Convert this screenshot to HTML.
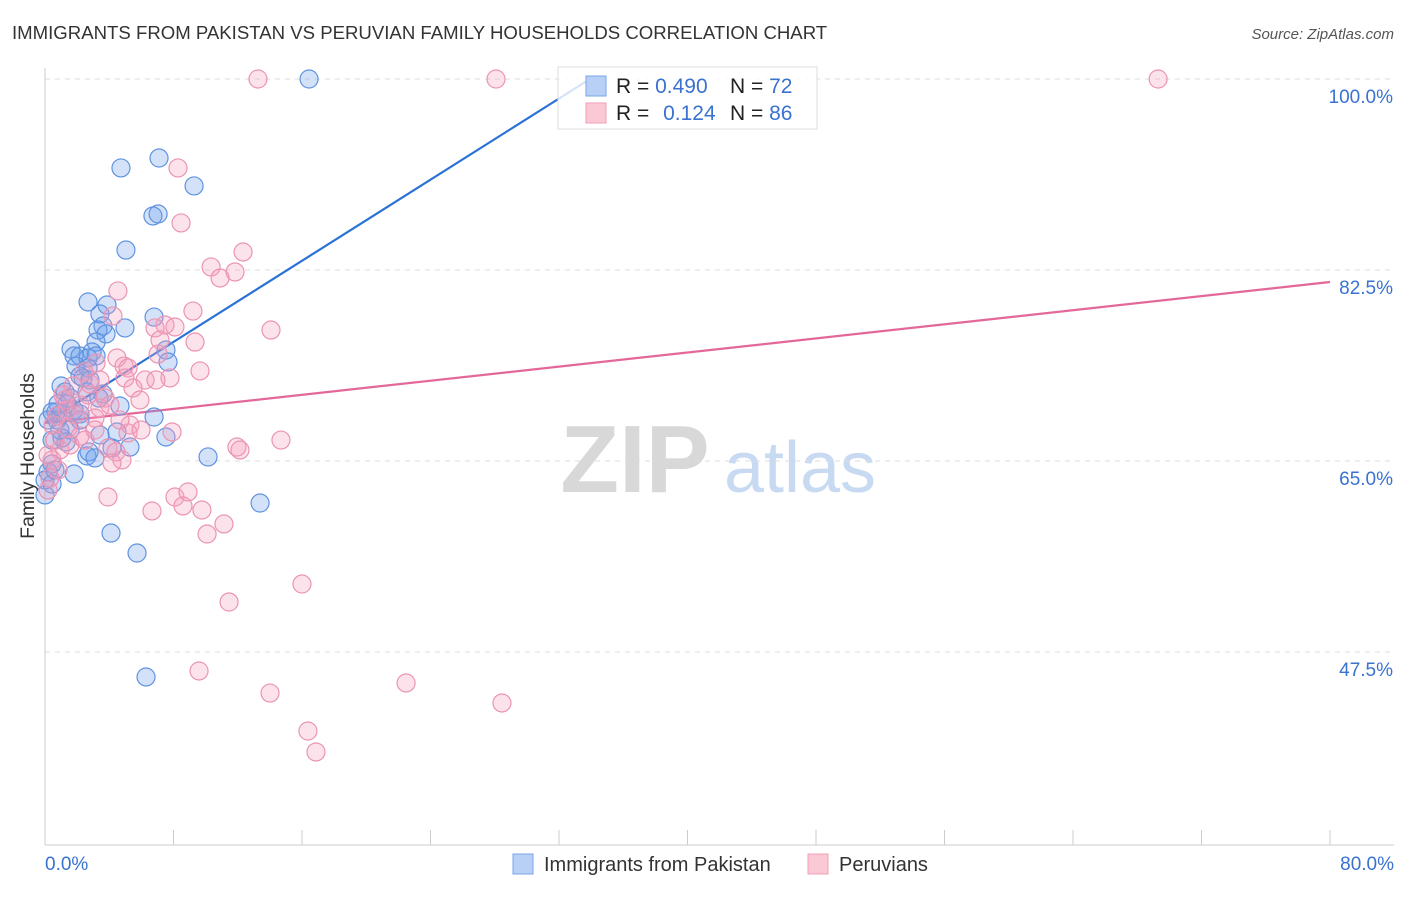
<!DOCTYPE html>
<html><head><meta charset="utf-8"><style>
body{margin:0;background:#fff;font-family:"Liberation Sans",sans-serif;}
svg text{font-family:"Liberation Sans",sans-serif;}
</style></head><body>
<svg id="chart" width="1406" height="892" xmlns="http://www.w3.org/2000/svg">
<text x="12" y="39" font-size="18.6" fill="#333">IMMIGRANTS FROM PAKISTAN VS PERUVIAN FAMILY HOUSEHOLDS CORRELATION CHART</text>
<text x="1394" y="39" font-size="15" fill="#555" text-anchor="end" font-style="italic">Source: ZipAtlas.com</text>
<g>
<text x="635" y="492" font-size="96" fill="#d8d8d8" text-anchor="middle" font-family="Liberation Serif" font-weight="bold">ZIP</text>
<text x="800" y="492" font-size="72" fill="#c8daf2" text-anchor="middle">atlas</text>
</g>
<g id="grid"></g>
<g id="axes"></g>
<g id="lines"></g>
<g id="pts"></g>
<text transform="translate(34,456) rotate(-90)" font-size="19.5" fill="#333" text-anchor="middle">Family Households</text>
<g>
<rect x="558" y="67" width="259" height="62" fill="#fff" fill-opacity="0.8" stroke="#ddd"/>
<rect x="586" y="76" width="20" height="20" fill="#b8d0f5" stroke="#7aa6e8"/>
<rect x="586" y="103" width="20" height="20" fill="#fbc8d6" stroke="#f0a0b8"/>
<text x="616" y="93" font-size="21" fill="#222">R = <tspan fill="#3a72d0">0.490</tspan></text>
<text x="730" y="93" font-size="21" fill="#222">N = <tspan fill="#3a72d0">72</tspan></text>
<text x="616" y="120" font-size="21" fill="#222">R = <tspan fill="#3a72d0" dx="8">0.124</tspan></text>
<text x="730" y="120" font-size="21" fill="#222">N = <tspan fill="#3a72d0">86</tspan></text>
</g>
<g>
<rect x="513" y="854" width="20" height="20" fill="#b8d0f5" stroke="#7aa6e8"/>
<text x="544" y="871" font-size="20" fill="#333">Immigrants from Pakistan</text>
<rect x="808" y="854" width="20" height="20" fill="#fbc8d6" stroke="#f0a0b8"/>
<text x="839" y="871" font-size="20" fill="#333">Peruvians</text>
</g>
</svg>
<script>
const yTicks=[100,82.5,65,47.5];
const yTickLabels=["100.0%","82.5%","65.0%","47.5%"];
const xTicks=[0,8,16,24,32,40,48,56,64,72,80];
const blueX=[16.44,4.73,7.10,9.28,6.72,7.04,5.04,2.68,3.86,3.42,3.61,4.98,3.30,6.79,3.80,3.18,1.62,1.81,2.18,2.93,2.68,3.18,7.53,7.66,1.93,2.68,2.18,2.37,1.00,1.25,2.61,3.61,1.56,3.36,0.81,1.37,1.81,4.67,0.68,0.44,1.00,2.18,6.79,0.75,1.06,1.31,3.42,4.48,2.61,2.74,3.11,5.29,7.53,4.17,10.15,0.44,0.19,1.81,0.44,0,13.39,4.11,5.73,6.29,0.19,0.44,0,0.93,2.18,1.56,0.62,2.80];
const blueY=[100,91.85,92.76,90.20,87.45,87.63,84.33,79.57,79.29,78.47,77.37,77.19,77.00,78.19,76.64,75.90,75.26,74.62,74.62,74.99,74.44,74.62,75.17,74.07,73.70,73.52,72.79,72.61,71.87,71.32,71.32,71.14,70.77,70.77,70.22,70.22,69.67,70.04,69.49,69.49,69.31,69.31,69.03,68.76,67.11,66.74,67.38,67.66,65.46,65.83,65.28,66.28,67.20,66.19,65.37,64.73,64.01,63.81,62.89,61.89,61.15,58.40,56.57,45.21,68.76,66.92,63.26,67.84,68.76,67.84,64.18,72.42];
const pinkX=[13.26,28.08,69.30,8.28,8.47,12.33,10.34,11.83,10.90,4.54,9.21,7.47,6.85,8.09,14.07,7.16,9.34,4.23,7.04,4.48,4.92,5.17,3.18,2.43,7.78,9.65,4.98,6.23,6.91,2.80,5.48,1.74,3.74,2.18,3.42,4.05,1.37,0.75,3.11,1.43,5.29,5.17,5.98,7.91,2.18,14.69,11.95,12.14,3.92,4.42,4.79,4.17,0.44,0.81,0.31,0.19,3.92,8.09,8.90,8.59,9.77,6.66,11.14,10.09,11.46,16.00,9.59,14.01,22.48,28.45,16.37,16.87,0.93,1.56,2.49,3.11,1.25,1.87,0.62,0.19,0.50,1.12,2.68,3.42,5.91,4.67];
const pinkY=[100,100,100,91.85,86.81,84.15,82.78,82.32,81.77,80.58,78.74,77.46,77.19,77.28,77.00,76.09,75.90,78.29,74.80,74.44,73.70,73.52,73.98,73.16,72.61,73.25,72.61,72.42,72.42,72.06,71.69,71.87,70.77,70.13,69.86,70.13,69.67,69.12,68.94,68.02,68.30,67.57,67.84,67.66,67.29,66.92,66.28,66.01,66.19,65.83,65.10,64.82,65.10,64.18,63.44,62.34,61.70,61.70,62.16,60.88,60.51,60.42,59.23,58.31,52.08,53.73,45.76,43.74,44.66,42.83,40.26,38.34,66.01,66.47,66.92,67.84,70.59,69.21,66.92,65.55,68.30,71.05,71.05,72.42,70.59,68.76];
const blueTrend=[68.48,0.929];
const pinkTrend=[68.48,0.1615];
const NS="http://www.w3.org/2000/svg";
const xs=v=>45+v/80*1285;
const ys=v=>79+(100-v)/17.5*191;
function mk(tag,attrs,parent){const e=document.createElementNS(NS,tag);for(const k in attrs)e.setAttribute(k,attrs[k]);document.getElementById(parent).appendChild(e);return e;}
yTicks.forEach((t,i)=>{
 const l=mk('line',{x1:45,x2:1394,y1:ys(t),y2:ys(t),stroke:'#ddd','stroke-dasharray':'5,5'},'grid');
 
 
 const tx=mk('text',{x:1393,y:ys(t)+24,'font-size':19,fill:'#3a72d0','text-anchor':'end'},'grid');
 tx.textContent=yTickLabels[i];
 
 
});
const ax=mk('line',{x1:45,x2:45,y1:68,y2:845,stroke:'#ccc'},'axes');


const bx=mk('line',{x1:45,x2:1394,y1:845,y2:845,stroke:'#ccc'},'axes');


xTicks.forEach(t=>{
 const l=mk('line',{x1:xs(t),x2:xs(t),y1:830,y2:845,stroke:'#ccc'},'axes');
 
 
});
const x0=mk('text',{x:45,y:870,'font-size':19,fill:'#3a72d0'},'axes');x0.textContent='0.0%';


const x1=mk('text',{x:1394,y:870,'font-size':19,fill:'#3a72d0','text-anchor':'end'},'axes');x1.textContent='80.0%';


function dots(X,Y,fill,stroke,name){X.forEach((v,i)=>{
 const c=mk('circle',{cx:xs(v),cy:ys(Y[i]),r:9,fill:fill,stroke:stroke,'stroke-width':1.2},'pts');
 
 
});}
dots(blueX,blueY,'rgba(110,160,235,0.3)','#5f93e0','point-pakistan');
dots(pinkX,pinkY,'rgba(245,160,190,0.3)','#eb94b3','point-peruvians');
const bEnd=(100-blueTrend[0])/blueTrend[1];
const bl=mk('line',{x1:xs(0),y1:ys(blueTrend[0]),x2:xs(bEnd),y2:ys(100),stroke:'#2a72d6','stroke-width':2.2},'lines');


const pl=mk('line',{x1:xs(0),y1:ys(pinkTrend[0]),x2:xs(80),y2:ys(pinkTrend[0]+pinkTrend[1]*80),stroke:'#e4679a','stroke-width':2.2},'lines');


</script>
</body></html>
